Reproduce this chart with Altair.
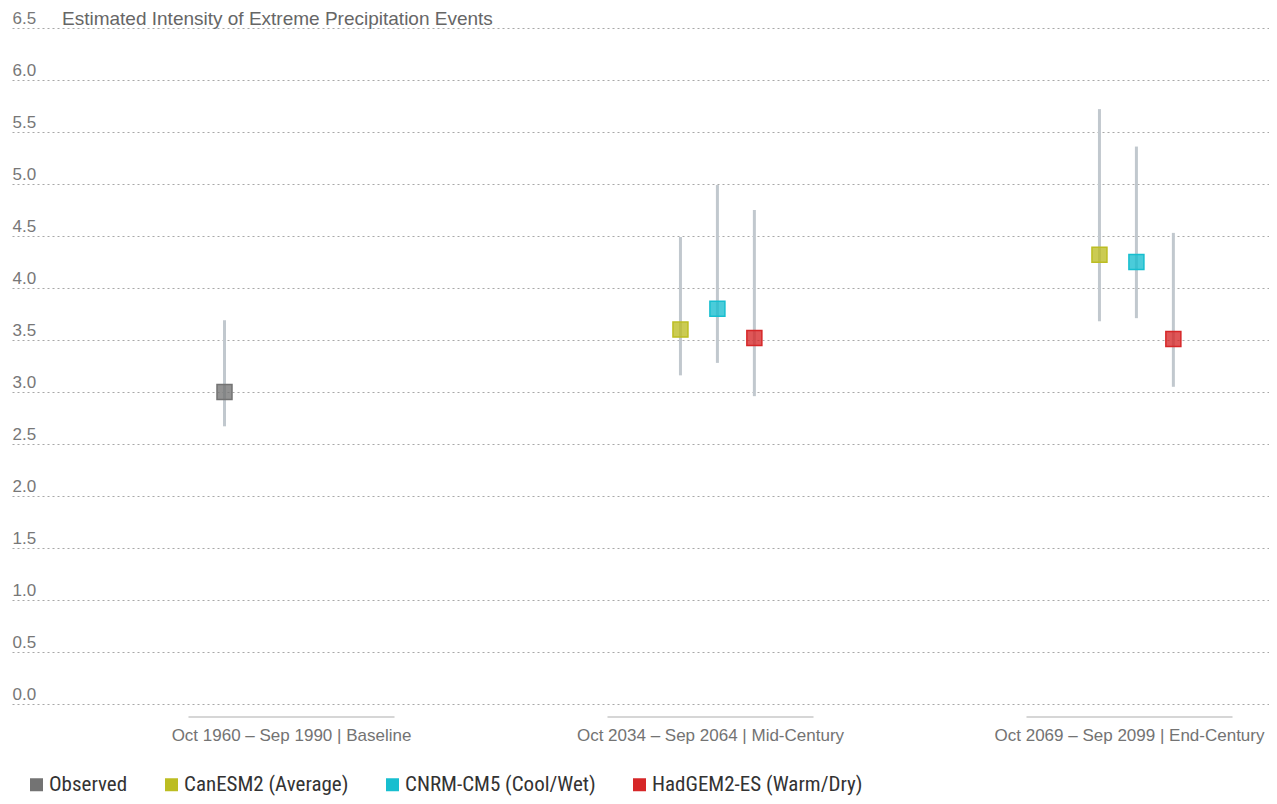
import altair as alt
import pandas as pd

periods = [
    "Oct 1960 – Sep 1990 | Baseline",
    "Oct 2034 – Sep 2064 | Mid-Century",
    "Oct 2069 – Sep 2099 | End-Century",
]
series_names = [
    "Observed",
    "CanESM2 (Average)",
    "CNRM-CM5 (Cool/Wet)",
    "HadGEM2-ES (Warm/Dry)",
]
series_colors = ["#737373", "#bcbd22", "#17becf", "#d62728"]

row_period = [0, 1, 1, 1, 2, 2, 2]
row_series = [0, 1, 2, 3, 1, 2, 3]
row_value = [3.00, 3.60, 3.80, 3.52, 4.32, 4.25, 3.51]
row_low = [2.67, 3.16, 3.28, 2.96, 3.68, 3.71, 3.05]
row_high = [3.69, 4.49, 4.99, 4.75, 5.72, 5.36, 4.53]

y_ticks = [0.0, 0.5, 1.0, 1.5, 2.0, 2.5, 3.0, 3.5, 4.0, 4.5, 5.0, 5.5, 6.0, 6.5]

df = pd.DataFrame({
    "period": [periods[i] for i in row_period],
    "series": [series_names[i] for i in row_series],
    "value": row_value,
    "low": row_low,
    "high": row_high,
})
df_periods = pd.DataFrame({"period": periods})

AX_FONT = "Liberation Sans"

x_enc = alt.X(
    "period:N",
    sort=periods,
    scale=alt.Scale(domain=periods, paddingInner=0.3683, paddingOuter=0.18415),
    axis=alt.Axis(
        title=None, labelAngle=0, labelOffset=70, labelPadding=23,
        domain=False, ticks=False, tickSize=0, grid=False, labelLimit=600,
        labelFontSize=17, labelColor="#737373", labelFont=AX_FONT,
    ),
)
offset_domain = ["_pad1", "_pad2", "_pad3"] + series_names
xoff_enc = alt.XOffset(
    "series:N",
    scale=alt.Scale(domain=offset_domain, paddingInner=0, paddingOuter=0.081, align=1),
)

y_axis = alt.Axis(
    title=None, values=y_ticks, format=".1f", orient="left",
    labelAlign="left", labelBaseline="alphabetic", labelOffset=-5, labelPadding=0,
    ticks=False, tickSize=0, domain=False,
    grid=True, gridDash=[2, 3], gridColor="#a8a8a8", gridWidth=1.2,
    labelFontSize=17, labelColor="#777777", labelFont=AX_FONT,
)
y_scale = alt.Scale(domain=[0, 6.5], nice=False, zero=True)

color_scale = alt.Scale(domain=series_names, range=series_colors)

base = alt.Chart(df)

whiskers = base.mark_rule(color="#c1c8ce", strokeWidth=3).encode(
    x=x_enc,
    xOffset=xoff_enc,
    y=alt.Y("low:Q", scale=y_scale, axis=y_axis),
    y2="high:Q",
)

points = base.mark_point(
    shape="square", filled=True, size=225, fillOpacity=0.78,
    strokeOpacity=1, strokeWidth=1.5, opacity=1,
).encode(
    x=x_enc,
    xOffset=xoff_enc,
    y=alt.Y("value:Q", scale=y_scale, axis=y_axis),
    fill=alt.Fill(
        "series:N", scale=color_scale,
        legend=alt.Legend(
            title=None, orient="none", legendX=14, legendY=746,
            direction="horizontal", symbolType="square", symbolSize=169,
            symbolStrokeWidth=0, symbolOpacity=1, labelFontSize=21,
            labelFont="Liberation Sans Narrow, Roboto Condensed, Roboto",
            labelColor="#333333", columnPadding=33, labelOffset=2,
            labelLimit=400, padding=0,
        ),
    ),
    stroke=alt.Stroke("series:N", scale=color_scale, legend=None),
)

underline = alt.Chart(df_periods).mark_tick(
    orient="horizontal", size=206, thickness=1.5, color="#b0b0b0", xOffset=70,
).encode(
    x=x_enc,
    y=alt.value(689),
)

chart = alt.layer(whiskers, points, underline).properties(
    width=1257,
    height=676,
    autosize=alt.AutoSizeParams(type="none"),
    padding={"left": 4, "right": 0, "top": 20, "bottom": 92},
    title=alt.TitleParams(
        "Estimated Intensity of Extreme Precipitation Events",
        anchor="start", fontSize=19, fontWeight="normal", color="#666666",
        font=AX_FONT, dx=50, offset=-20,
    ),
).configure_view(stroke=None)

chart.save("out.html", embed_options={"renderer": "svg", "actions": False})
